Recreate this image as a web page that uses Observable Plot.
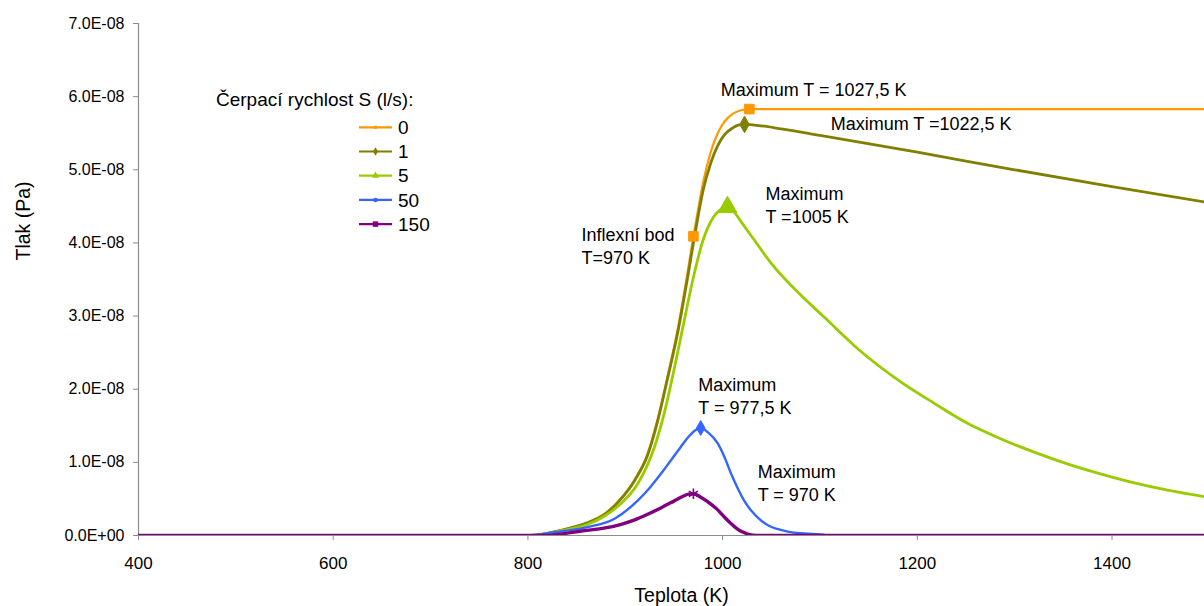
<!DOCTYPE html>
<html><head><meta charset="utf-8">
<script src="https://cdn.jsdelivr.net/npm/d3@7"></script>
<script src="https://cdn.jsdelivr.net/npm/@observablehq/plot@0.6"></script>
<style>
body{margin:0;background:#fff}
#chart{width:1204px;height:606px;overflow:hidden}
</style>
</head><body><div id="chart"></div>
<script>
// ---- data (pressure in units of 1E-08 Pa, temperature in K) ----
const seriesNames  = ["0", "1", "5", "50", "150"];
const seriesColors = ["#FF9900", "#808000", "#99CC00", "#3366FF", "#800080"];
const seriesWidths = [2.2, 2.8, 2.8, 2.4, 3.4];

const t0 = [400, 800, 820, 840, 860, 880, 895, 910, 923, 933, 943, 955, 960, 965, 970, 975, 980, 988, 995, 1002, 1010, 1018, 1027.5, 1100, 1200, 1300, 1400, 1500];
const p0 = [0, 0, 0.03, 0.09, 0.17, 0.31, 0.50, 0.77, 1.12, 1.58, 2.15, 2.90, 3.28, 3.68, 4.09, 4.47, 4.83, 5.25, 5.50, 5.66, 5.76, 5.81, 5.83, 5.83, 5.83, 5.83, 5.83, 5.83];

const t1 = [400, 800, 820, 840, 860, 880, 895, 910, 923, 933, 943, 955, 960, 965, 970, 975, 980, 988, 995, 1002, 1010, 1016, 1022.5, 1040, 1060, 1100, 1200, 1300, 1400, 1500];
const p1 = [0, 0, 0.03, 0.09, 0.17, 0.30, 0.49, 0.76, 1.10, 1.55, 2.12, 2.85, 3.22, 3.60, 4.00, 4.38, 4.72, 5.10, 5.33, 5.48, 5.57, 5.61, 5.62, 5.60, 5.56, 5.47, 5.24, 5.00, 4.77, 4.55];

const t5 = [400, 800, 820, 844, 861, 878, 895, 913, 930, 940, 950, 960, 970, 980, 990, 1000, 1005, 1012, 1020, 1032, 1050, 1080, 1104, 1140, 1183, 1217, 1252, 1286, 1320, 1354, 1389, 1423, 1457, 1500];
const p5 = [0, 0, 0.03, 0.09, 0.15, 0.26, 0.43, 0.71, 1.21, 1.67, 2.26, 2.90, 3.53, 4.04, 4.34, 4.47, 4.49, 4.42, 4.27, 4.05, 3.72, 3.29, 2.99, 2.54, 2.10, 1.81, 1.53, 1.32, 1.14, 0.98, 0.84, 0.72, 0.62, 0.52];

const t50 = [400, 800, 827, 861, 889, 913, 925, 937, 947, 957, 965, 972, 977.5, 985, 995, 1002, 1008.5, 1015, 1022, 1030, 1039, 1048, 1056, 1068, 1080, 1092, 1104];
const p50 = [0, 0, 0.045, 0.114, 0.23, 0.48, 0.65, 0.85, 1.03, 1.21, 1.35, 1.44, 1.47, 1.41, 1.26, 1.07, 0.85, 0.66, 0.48, 0.33, 0.21, 0.13, 0.09, 0.05, 0.03, 0.02, 0.01];

const t150 = [400, 820, 844, 860, 878, 895, 909, 923, 937, 950, 960, 965, 970, 978, 988, 995, 1002, 1008, 1015, 1020, 1026, 1035, 1500];
const p150 = [0, 0, 0.04, 0.07, 0.10, 0.15, 0.21, 0.29, 0.38, 0.47, 0.54, 0.565, 0.57, 0.52, 0.43, 0.35, 0.25, 0.17, 0.09, 0.05, 0.02, 0, 0];

const seriesT = [t0, t1, t5, t50, t150];
const seriesP = [p0, p1, p5, p50, p150];

// highlighted points (maxima / inflection)
const hlSeries = [0, 0, 1, 2, 3, 4];
const hlT      = [1027.5, 970, 1022.5, 1005, 977.5, 970];
const hlP      = [5.83, 4.09, 5.62, 4.49, 1.47, 0.57];
const hlSymbol = ["square", "square", "diamond", "triangle", "diamond", "asterisk"];
const hlR      = [5.4, 5.4, 5, 7, 4.5, 5];

// annotations: text, anchor temperature, anchor pressure (1E-08 Pa)
const annText = ["Maximum T = 1027,5 K", "Maximum T =1022,5 K", "Maximum\nT =1005 K", "Inflexní bod\nT=970 K", "Maximum\nT = 977,5 K", "Maximum\nT = 970 K"];
const annT    = [998, 1111, 1044, 855, 975, 1036];
const annP    = [6.11, 5.65, 4.53, 3.97, 1.92, 0.73];

const xTicks = [400, 600, 800, 1000, 1200, 1400];
const yTicks = [0, 1, 2, 3, 4, 5, 6, 7].map(v => v * 1e-8);
const xTitle = "Teplota (K)";
const yTitle = "Tlak (Pa)";
const legendTitle = "Čerpací rychlost S (l/s):";

// ---- build ----
const FONT = "'Liberation Sans', Arial, Helvetica, sans-serif";
const sci = v => {
  if (v === 0) return "0.0E+00";
  const e = Math.floor(Math.log10(Math.abs(v)) + 1e-9);
  const m = v / Math.pow(10, e);
  return m.toFixed(1) + "E" + (e < 0 ? "-" : "+") + String(Math.abs(e)).padStart(2, "0");
};

const rows = seriesT.map((ts, i) => ts.map((t, j) => ({T: t, P: seriesP[i][j] * 1e-8, s: seriesNames[i]})));
const hlRows = hlT.map((t, i) => ({T: t, P: hlP[i] * 1e-8}));
const annRows = annText.map((txt, i) => ({T: annT[i], P: annP[i] * 1e-8, text: txt}));

const marks = [
  Plot.axisY({ticks: yTicks, tickFormat: sci, tickSize: 5, tickPadding: 9, stroke: "#8c8c8c", fill: "#000", fontSize: 16, label: null}),
  Plot.axisX({ticks: xTicks, tickFormat: d => String(d), tickSize: 5, tickPadding: 16, stroke: "#8c8c8c", fill: "#000", fontSize: 17, label: null}),
  Plot.ruleX([400], {stroke: "#8c8c8c", strokeWidth: 1.2}),
  Plot.ruleY([0], {stroke: "#8c8c8c", strokeWidth: 1.2}),
  Plot.text([xTitle], {frameAnchor: "bottom", lineAnchor: "middle", dy: 60, dx: 10, fontSize: 19.5, fill: "#000"}),
  Plot.text([yTitle], {frameAnchor: "left", lineAnchor: "middle", rotate: -90, dx: -115, dy: -19, fontSize: 19.5, fill: "#000"})
];
rows.forEach((r, i) => {
  marks.push(Plot.line(r, {x: "T", y: "P", stroke: seriesColors[i], strokeWidth: seriesWidths[i], curve: "monotone-x", clip: true}));
});
hlRows.forEach((d, i) => {
  const c = seriesColors[hlSeries[i]];
  if (hlSymbol[i] === "asterisk") {
    marks.push(Plot.dot([d], {x: "T", y: "P", symbol: "asterisk", r: hlR[i], stroke: c, strokeWidth: 1.6}));
  } else {
    marks.push(Plot.dot([d], {x: "T", y: "P", symbol: hlSymbol[i], r: hlR[i], fill: c, stroke: c, strokeWidth: 1}));
  }
});
marks.push(Plot.text(annRows, {x: "T", y: "P", text: "text", textAnchor: "start", lineAnchor: "middle", lineHeight: 1.3, fontSize: 18, fill: "#000"}));

const chart = Plot.plot({
  width: 1204, height: 606,
  marginLeft: 138, marginRight: 0, marginTop: 23, marginBottom: 71,
  style: {fontFamily: FONT, background: "#fff", color: "#000", overflow: "visible"},
  x: {domain: [400, 1495], label: null},
  y: {domain: [0, 7e-8], label: null},
  marks
});
document.getElementById("chart").appendChild(chart);

// ---- legend (drawn into the SVG) ----
const svg = d3.select(chart);
const lg = svg.append("g").attr("font-family", FONT).attr("fill", "#000").attr("text-anchor", "start");
lg.append("text").attr("x", 216).attr("y", 99).attr("dy", "0.35em").attr("font-size", 19).text(legendTitle);
const legSym = [d3.symbolSquare, d3.symbolDiamond, d3.symbolTriangle, d3.symbolCircle, d3.symbolSquare];
const legSize = [10, 22, 22, 16, 30];
seriesNames.forEach((name, i) => {
  const y = 127.3 + i * 24.2;
  lg.append("line").attr("x1", 359).attr("x2", 392).attr("y1", y).attr("y2", y)
    .attr("stroke", seriesColors[i]).attr("stroke-width", 2.2);
  lg.append("path").attr("d", d3.symbol().type(legSym[i]).size(legSize[i])())
    .attr("transform", `translate(375.5,${y})`).attr("fill", seriesColors[i]);
  lg.append("text").attr("x", 398).attr("y", y).attr("dy", "0.35em").attr("font-size", 19).text(name);
});
</script></body></html>
